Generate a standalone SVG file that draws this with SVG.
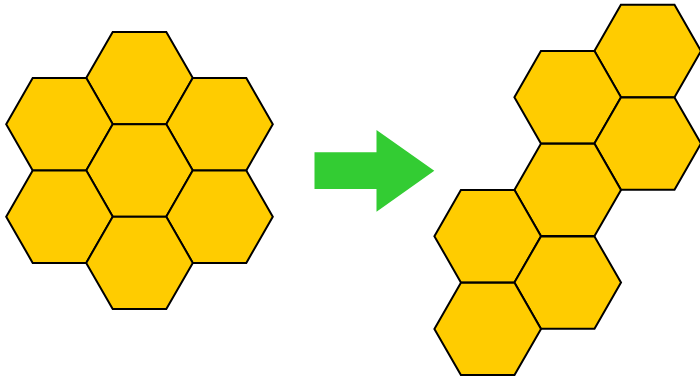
<svg xmlns="http://www.w3.org/2000/svg" xmlns:xlink="http://www.w3.org/1999/xlink" width="700" height="381" viewBox="0 0 700 381">
<style>
.hex{fill:#FFCC00;stroke:#000;stroke-width:2;stroke-linejoin:miter}
.arrow{fill:#33CC33}
</style>
<defs>
<polygon id="h" points="-53.3,0 -26.8,-46.2 26.8,-46.2 53.3,0 26.8,46.2 -26.8,46.2"/>
</defs>
<rect width="700" height="381" fill="#fff"/>
<g id="left-cluster">
<g id="l1"><use xlink:href="#h" href="#h" class="hex" x="139.5" y="78.1"/></g>
<g id="l2"><use xlink:href="#h" href="#h" class="hex" x="59.5" y="124.3"/></g>
<g id="l3"><use xlink:href="#h" href="#h" class="hex" x="219.5" y="124.3"/></g>
<g id="l4"><use xlink:href="#h" href="#h" class="hex" x="139.5" y="170.5"/></g>
<g id="l5"><use xlink:href="#h" href="#h" class="hex" x="59.5" y="216.7"/></g>
<g id="l6"><use xlink:href="#h" href="#h" class="hex" x="219.5" y="216.7"/></g>
<g id="l7"><use xlink:href="#h" href="#h" class="hex" x="139.5" y="262.9"/></g>
</g>
<g id="connectors">
<polygon class="arrow" points="314.5,152.3 376.5,152.3 376.5,130 434.3,170.7 376.5,211.7 376.5,189 314.5,189"/>
</g>
<g id="right-cluster">
<g id="r1"><use xlink:href="#h" href="#h" class="hex" x="647.7" y="51"/></g>
<g id="r2"><use xlink:href="#h" href="#h" class="hex" x="567.7" y="97.3"/></g>
<g id="r3"><use xlink:href="#h" href="#h" class="hex" x="647.7" y="143.6"/></g>
<g id="r4"><use xlink:href="#h" href="#h" class="hex" x="567.7" y="189.9"/></g>
<g id="r5"><use xlink:href="#h" href="#h" class="hex" x="487.7" y="236.2"/></g>
<g id="r6"><use xlink:href="#h" href="#h" class="hex" x="567.7" y="282.6"/></g>
<g id="r7"><use xlink:href="#h" href="#h" class="hex" x="487.7" y="328.9"/></g>
</g>
</svg>
